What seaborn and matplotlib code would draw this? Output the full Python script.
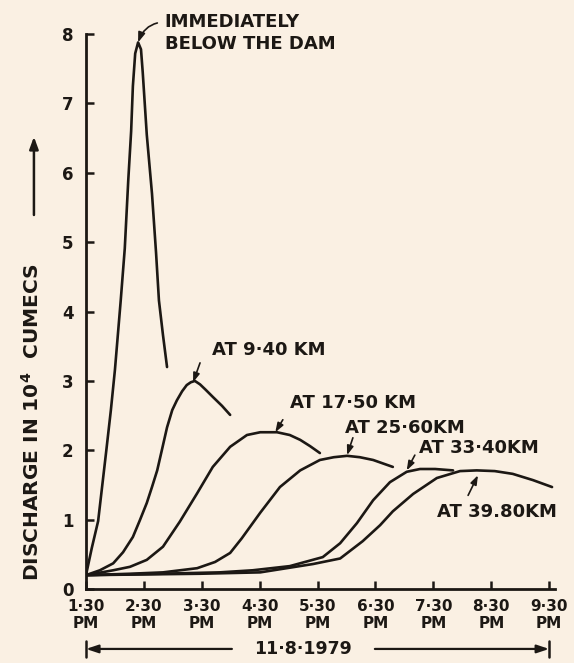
import numpy as np
import pandas as pd
import matplotlib
matplotlib.use('Agg')
import matplotlib.pyplot as plt
import matplotlib.transforms as mtransforms
import seaborn as sns

# flood hydrographs after the dam failure, 11.8.1979
# x = hours after 1.30 PM, y = discharge in 10^4 cumecs
dam_hours = [0, 0.10, 0.21, 0.35, 0.43, 0.50, 0.60, 0.67, 0.73, 0.78, 0.81, 0.85,
             0.90, 0.95, 0.98, 1.05, 1.14, 1.21, 1.26, 1.33, 1.40]
dam_q = [0.20, 0.59, 0.98, 1.99, 2.58, 3.16, 4.16, 4.91, 5.89, 6.60, 7.25, 7.72,
         7.88, 7.78, 7.45, 6.55, 5.70, 4.85, 4.16, 3.66, 3.20]

km940_hours = [0, 0.24, 0.47, 0.64, 0.81, 0.93, 1.05, 1.14, 1.23, 1.31, 1.40,
               1.49, 1.57, 1.66, 1.74, 1.81, 1.88, 1.97, 2.07, 2.19, 2.35, 2.49]
km940_q = [0.20, 0.27, 0.37, 0.53, 0.75, 0.99, 1.24, 1.47, 1.71, 2.00, 2.33,
           2.58, 2.72, 2.85, 2.94, 2.98, 3.00, 2.95, 2.87, 2.77, 2.64, 2.51]

km1750_hours = [0, 0.47, 0.76, 1.05, 1.33, 1.62, 1.92, 2.19, 2.49, 2.78, 3.01,
                3.30, 3.52, 3.70, 3.87, 4.04]
km1750_q = [0.20, 0.27, 0.32, 0.42, 0.61, 0.97, 1.38, 1.76, 2.05, 2.22, 2.26,
            2.26, 2.22, 2.15, 2.06, 1.96]

km2560_hours = [0, 0.76, 1.33, 1.92, 2.23, 2.49, 2.69, 3.01, 3.35, 3.70, 4.04,
                4.28, 4.51, 4.73, 4.96, 5.30]
km2560_q = [0.20, 0.22, 0.24, 0.30, 0.39, 0.52, 0.73, 1.10, 1.47, 1.71, 1.86,
            1.90, 1.92, 1.90, 1.86, 1.76]

km3340_hours = [0, 1.28, 2.31, 2.88, 3.52, 4.09, 4.39, 4.68, 4.96, 5.25, 5.54,
                5.77, 6.03, 6.34]
km3340_q = [0.20, 0.22, 0.24, 0.27, 0.33, 0.46, 0.66, 0.95, 1.28, 1.54, 1.69,
            1.73, 1.73, 1.71]

km3980_hours = [0, 1.97, 3.01, 3.92, 4.39, 4.78, 5.08, 5.30, 5.65, 6.06, 6.46,
                6.75, 7.06, 7.37, 7.72, 8.05]
km3980_q = [0.20, 0.22, 0.24, 0.36, 0.44, 0.69, 0.92, 1.12, 1.37, 1.60, 1.70,
            1.71, 1.70, 1.66, 1.57, 1.47]

stations = ['IMMEDIATELY\nBELOW THE DAM', 'AT 9·40 KM', 'AT 17·50 KM',
            'AT 25·60KM', 'AT 33·40KM', 'AT 39.80KM']
time_labels = ['1·30\nPM', '2·30\nPM', '3·30\nPM', '4·30\nPM', '5·30\nPM',
               '6·30\nPM', '7·30\nPM', '8·30\nPM', '9·30\nPM']
date_label = '11·8·1979'

paper = '#faf0e3'
ink = '#1c1814'

sns.set_theme(style='ticks')
plt.rcParams['font.family'] = ['DejaVu Sans']
plt.rcParams['font.weight'] = 'bold'
plt.rcParams['mathtext.default'] = 'bf'

all_hours = [dam_hours, km940_hours, km1750_hours, km2560_hours, km3340_hours, km3980_hours]
all_q = [dam_q, km940_q, km1750_q, km2560_q, km3340_q, km3980_q]
frames = []
for name, h, q in zip(stations, all_hours, all_q):
    frames.append(pd.DataFrame({'hours': h, 'discharge': q, 'station': name}))
df = pd.concat(frames, ignore_index=True)

fig = plt.figure(figsize=(5.74, 6.63), dpi=100, facecolor=paper)
ax = fig.add_axes([0.1498, 0.1116, 0.817, 0.837])
ax.set_facecolor(paper)

sns.lineplot(data=df, x='hours', y='discharge', units='station', estimator=None,
             sort=False, color=ink, linewidth=1.9, legend=False, ax=ax)

ax.set_xlim(0, 8.1)
ax.set_ylim(0, 8)
sns.despine(ax=ax)
for side in ['left', 'bottom']:
    ax.spines[side].set_color(ink)
    ax.spines[side].set_linewidth(2.0)

ax.set_xticks(range(len(time_labels)))
ax.set_xticklabels(time_labels, fontsize=11, fontweight='bold', linespacing=1.15)
ax.set_yticks(range(9))
ax.set_yticklabels([str(i) for i in range(9)], fontsize=12, fontweight='bold')
ax.tick_params(axis='both', direction='in', length=6, width=1.8, colors=ink, labelcolor=ink)
ax.tick_params(axis='x', pad=7)
ax.tick_params(axis='y', pad=9)
ax.set_xlabel('')
ax.set_ylabel('DISCHARGE IN 10$^4$  CUMECS', fontsize=14.5, fontweight='bold', color=ink)
ax.yaxis.set_label_coords(-0.092, 0.30)

# arrow beside the y label
ax.annotate('', xy=(-0.111, 0.815), xytext=(-0.111, 0.674), xycoords='axes fraction',
            arrowprops=dict(arrowstyle='-|>,head_length=0.6,head_width=0.22',
                            color=ink, lw=1.8, shrinkA=0, shrinkB=0),
            annotation_clip=False)

arrow_kw = dict(arrowstyle='-|>,head_length=0.45,head_width=0.16', color=ink, lw=1.2,
                shrinkA=0, shrinkB=0)

# label for the dam curve with its hooked leader
ax.annotate(stations[0], xy=(0.90, 7.88), xytext=(1.36, 8.01), fontsize=13,
            fontweight='bold', color=ink, ha='left', va='center', linespacing=1.3,
            annotation_clip=False,
            arrowprops=dict(arrowstyle='-|>,head_length=0.45,head_width=0.16', color=ink,
                            lw=1.2, shrinkA=3, shrinkB=0, relpos=(0, 0.78),
                            connectionstyle='angle3,angleA=180,angleB=70'))

# the other stations: (text left/centre), (arrow tail), (arrow tip)
label_spots = [(2.18, 3.44), (3.52, 2.68), (4.47, 2.32), (5.75, 2.03), (6.06, 1.11)]
arrow_tails = [(1.97, 3.26), (3.40, 2.44), (4.61, 2.18), (5.68, 1.93), (6.60, 1.35)]
arrow_tips = [(1.85, 2.98), (3.27, 2.26), (4.51, 1.93), (5.54, 1.71), (6.77, 1.64)]
for name, spot, tail, tip in zip(stations[1:], label_spots, arrow_tails, arrow_tips):
    ax.text(spot[0], spot[1], name, fontsize=13, fontweight='bold', color=ink,
            ha='left', va='center')
    ax.annotate('', xy=tip, xytext=tail, arrowprops=arrow_kw)

# date span under the time axis
trans = mtransforms.blended_transform_factory(ax.transData, ax.transAxes)
date_y = -0.108
ax.text(3.75, date_y, date_label, transform=trans, fontsize=12.5, fontweight='bold',
        color=ink, ha='center', va='center')
date_arrow = dict(arrowstyle='-|>,head_length=0.6,head_width=0.2', color=ink, lw=1.6,
                  shrinkA=0, shrinkB=0)
ax.annotate('', xy=(0, date_y), xytext=(2.52, date_y), xycoords=trans, textcoords=trans,
            arrowprops=date_arrow, annotation_clip=False)
ax.annotate('', xy=(8.0, date_y), xytext=(4.99, date_y), xycoords=trans, textcoords=trans,
            arrowprops=date_arrow, annotation_clip=False)
for end in [0, 8.0]:
    ax.plot([end, end], [date_y - 0.015, date_y + 0.015], color=ink, lw=1.8,
            transform=trans, clip_on=False)

fig.savefig('out.png', dpi=100, facecolor=paper)
